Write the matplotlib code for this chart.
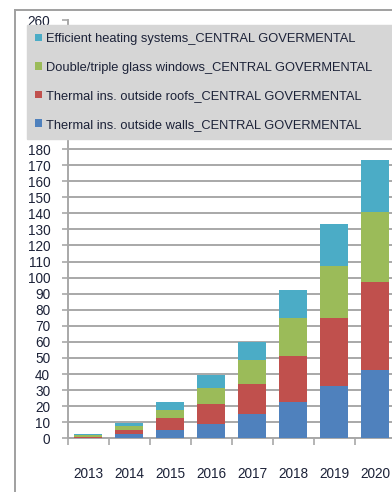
import matplotlib
matplotlib.use("Agg")
import matplotlib.pyplot as plt
from matplotlib.patches import Patch
from matplotlib.lines import Line2D
import numpy as np

plt.rcParams['font.family'] = ['Liberation Sans', 'DejaVu Sans']

years = ["2013", "2014", "2015", "2016", "2017", "2018", "2019", "2020"]
walls = [0.2, 2.7, 5.2, 8.9, 15.1, 22.6, 32.6, 42.5]
roofs = [0.3, 2.5, 7.7, 12.5, 18.7, 28.6, 42.5, 55.0]
windows = [1.5, 2.5, 4.7, 10.1, 15.0, 23.7, 32.2, 43.6]
heating = [0.7, 2.1, 5.2, 7.9, 11.0, 17.4, 26.1, 32.2]

series = [
    ("Thermal ins. outside walls_CENTRAL GOVERMENTAL", walls, "#4F81BD"),
    ("Thermal ins. outside roofs_CENTRAL GOVERMENTAL", roofs, "#C0504D"),
    ("Double/triple glass windows_CENTRAL GOVERMENTAL", windows, "#9BBB59"),
    ("Efficient heating systems_CENTRAL GOVERMENTAL", heating, "#4BACC6"),
]

W, H = 392, 492
fig = plt.figure(figsize=(W / 100, H / 100), dpi=100)
fig.patch.set_facecolor("white")

# plot area: left spine at x=67.5 px, zero line at y=438.3 px, 260 at y=20.5 px
cat_px = 41.0
left_px, zero_px, top_px = 67.5, 438.3, 20.5
ax = fig.add_axes([left_px / W, (H - zero_px) / H,
                   8 * cat_px / W, (zero_px - top_px) / H])

text_col = "#1c2238"
grid_col = "#a8a8a8"

x = np.arange(len(years))
bottom = np.zeros(len(years))
for name, vals, col in series:
    ax.bar(x, vals, width=0.7, bottom=bottom, color=col, label=name,
           edgecolor="none", zorder=3)
    bottom += np.array(vals)

ax.set_xlim(-0.5, 7.5)
ax.set_ylim(0, 260)
yticks = np.arange(0, 261, 10)
ax.set_yticks(yticks)
# labels 190..250 sit underneath the legend box
ax.set_yticklabels([str(v) if (v <= 180 or v == 260) else "" for v in yticks])
ax.yaxis.grid(True, color=grid_col, linewidth=1.4, zorder=0)
ax.set_axisbelow(True)

for s in ["top", "right"]:
    ax.spines[s].set_visible(False)
ax.spines["left"].set_color(grid_col)
ax.spines["bottom"].set_color(grid_col)
ax.spines["left"].set_linewidth(1.4)
ax.spines["bottom"].set_linewidth(1.4)

ax.tick_params(axis="y", length=4, width=1.2, color=grid_col, pad=8.5,
               labelsize=9.8, labelcolor=text_col)
ax.set_xticks(x)
ax.set_xticklabels(years)
ax.set_xticks(np.arange(-0.5, 8.0, 1.0), minor=True)
ax.tick_params(axis="x", which="major", length=0, pad=21, labelsize=9.8,
               labelcolor=text_col)
ax.tick_params(axis="x", which="minor", length=5, width=1.2, color=grid_col)

# outer chart frame
fig.add_artist(Line2D([15 / W, 15 / W], [0, 1 - 10 / H], transform=fig.transFigure,
                      color="#a0a0a0", linewidth=1.4))
fig.add_artist(Line2D([15 / W, 1.0], [1 - 10 / H, 1 - 10 / H], transform=fig.transFigure,
                      color="#a0a0a0", linewidth=1.4))

handles = [Patch(facecolor=c, edgecolor="none") for _, _, c in series][::-1]
labels = [n for n, _, _ in series][::-1]
leg = ax.legend(handles, labels, loc="upper left",
                bbox_to_anchor=(27 / W, 1 - 30 / H, 380 / W, 0.01),
                bbox_transform=fig.transFigure, mode="expand",
                borderaxespad=0, frameon=True, fancybox=False,
                facecolor="#d6d6d6", edgecolor="#d6d6d6", framealpha=1,
                fontsize=9.3, handlelength=0.55, handleheight=0.55,
                handletextpad=0.3, labelspacing=1.28, borderpad=0.62,
                labelcolor=text_col)
leg.set_zorder(10)

fig.savefig("out.png", dpi=100)
